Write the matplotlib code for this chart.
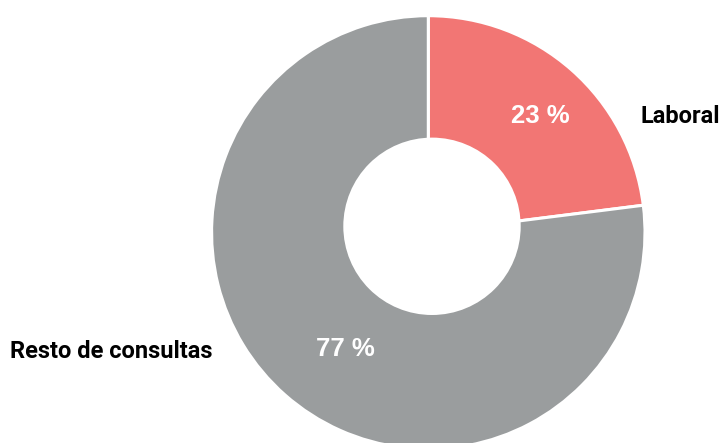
import matplotlib
matplotlib.use("Agg")
import matplotlib.pyplot as plt
from matplotlib.patches import Circle

categories = ["Laboral", "Resto de consultas"]
values = [23, 77]
pct_labels = ["23 %", "77 %"]
colors = ["#F27674", "#9A9D9E"]

W, H = 722, 443
fig = plt.figure(figsize=(W / 100, H / 100), dpi=100)
ax = fig.add_axes([0, 0, 1, 1])

cx, cy, R = 428.3, H - 232.4, 216.7
ax.pie(values, colors=colors, startangle=90, counterclock=False,
       center=(cx, cy), radius=R, frame=True,
       wedgeprops=dict(edgecolor="white", linewidth=2.2))
ax.set_xlim(0, W)
ax.set_ylim(0, H)
ax.set_aspect("equal")
ax.axis("off")

# hole
ax.add_patch(Circle((432.0, H - 226.3), 88.7, facecolor="white", edgecolor="none", zorder=5))

ax.text(540, H - 116, pct_labels[0], color="white", fontsize=18.5, fontweight="bold",
        family="Liberation Sans", ha="center", va="center", zorder=6)
ax.text(345, H - 349, pct_labels[1], color="white", fontsize=18.5, fontweight="bold",
        family="Liberation Sans", ha="center", va="center", zorder=6)
ax.text(640, H - 116, categories[0], color="black", fontsize=17, fontweight="bold",
        family="Roboto", ha="left", va="center", zorder=6)
ax.text(10, H - 351, categories[1], color="black", fontsize=17, fontweight="bold",
        family="Roboto", ha="left", va="center", zorder=6)

fig.savefig("out.png", dpi=100)
